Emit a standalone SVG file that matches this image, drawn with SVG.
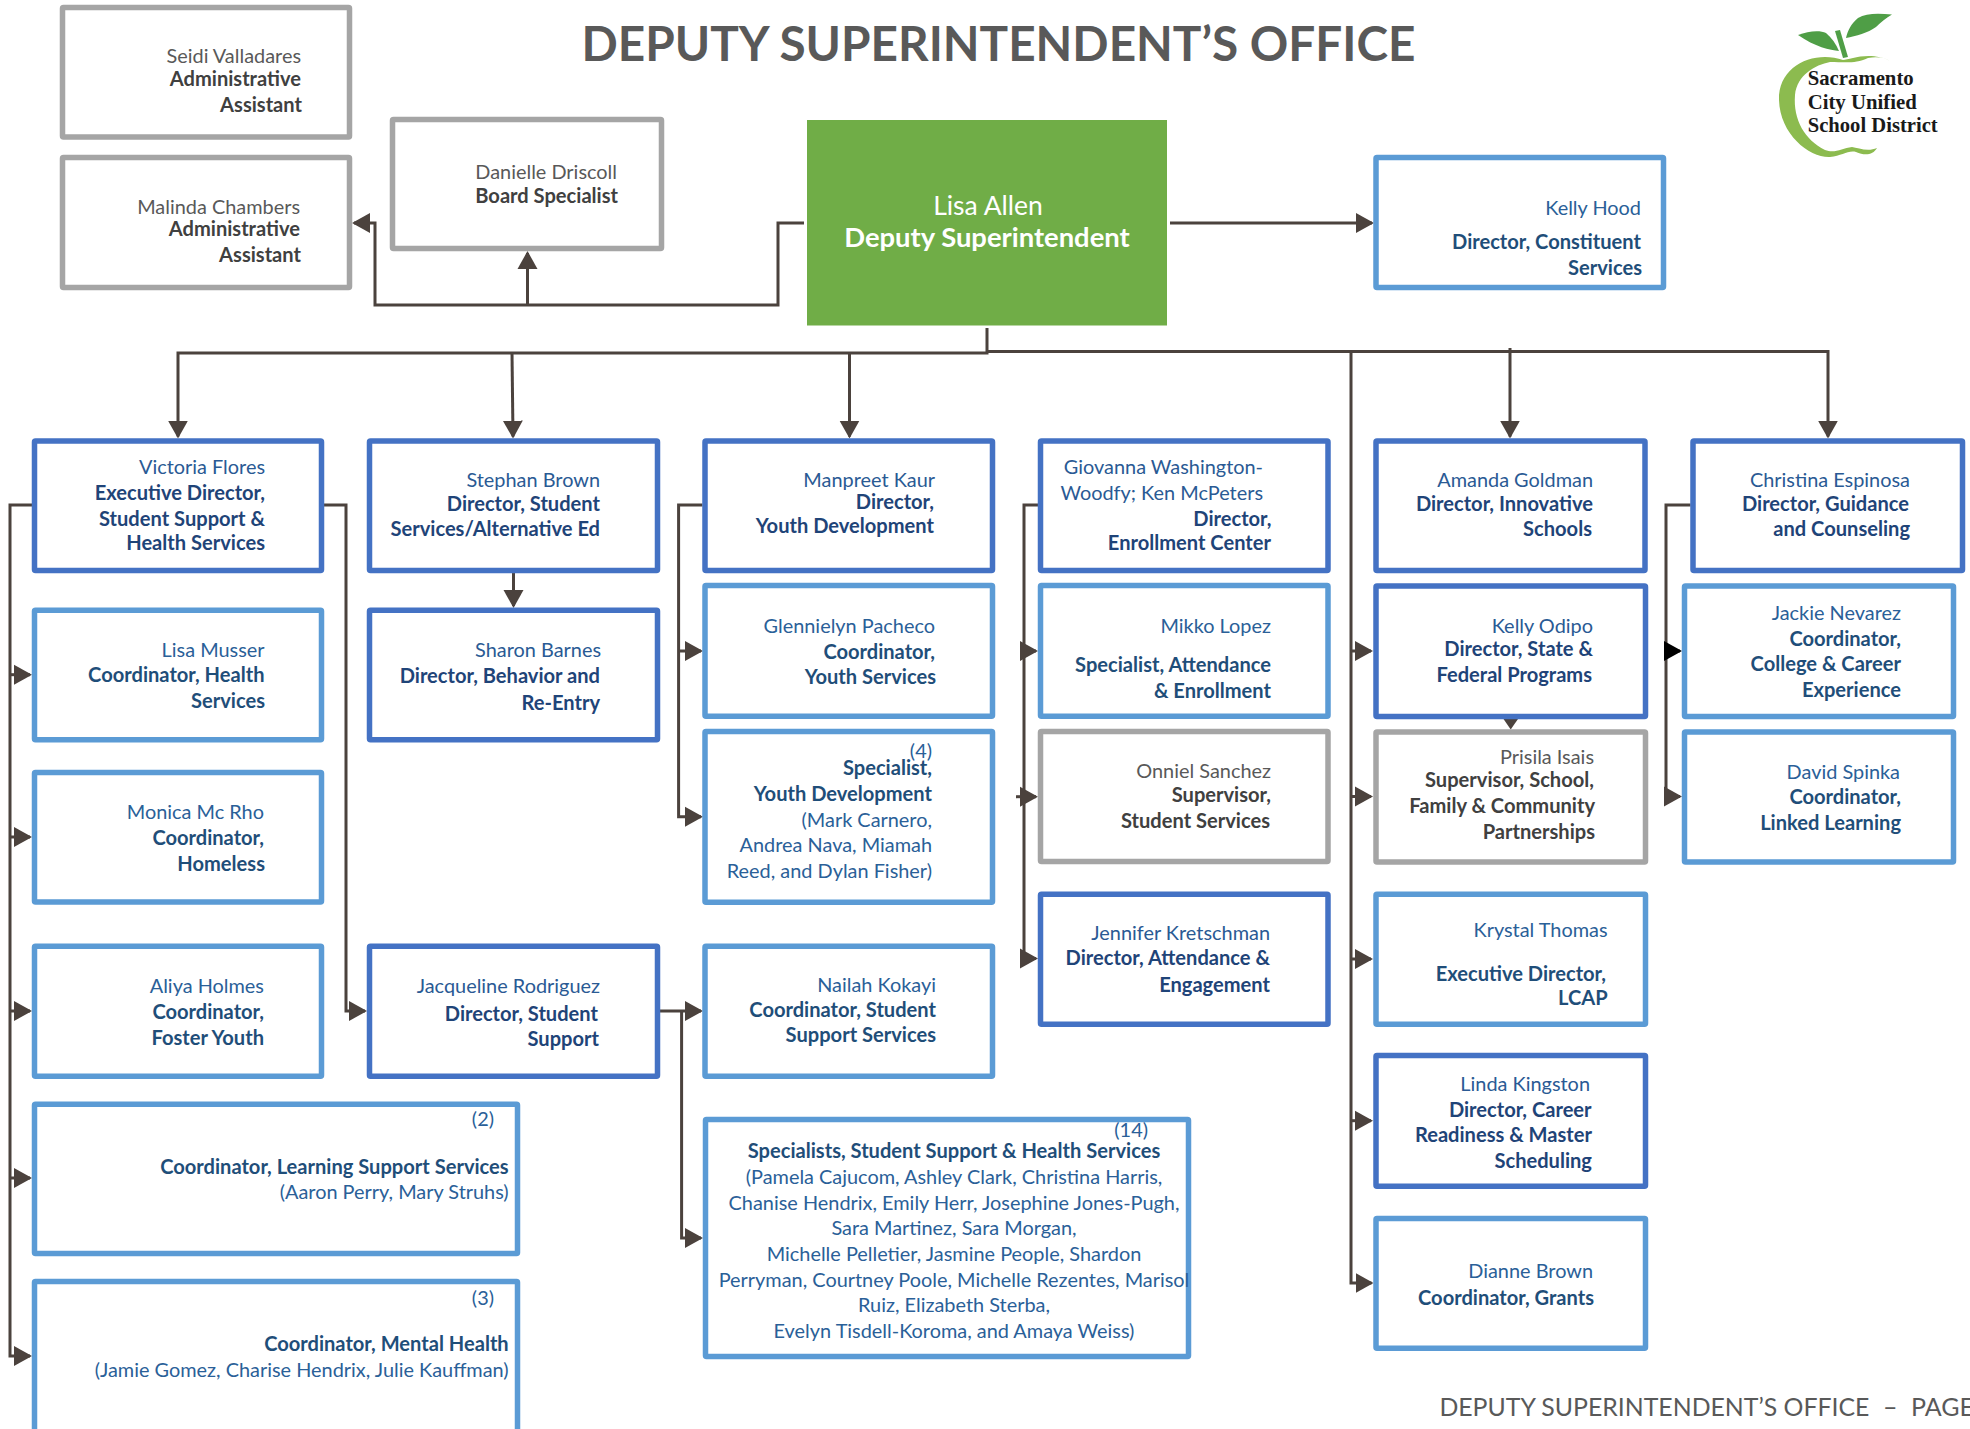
<svg xmlns="http://www.w3.org/2000/svg" width="1970" height="1429" viewBox="0 0 1970 1429">
<style>
text{font-family:Lato,"Liberation Sans",sans-serif;font-size:19.9px;text-anchor:end}
.bx{fill:#fff;stroke-width:5.5}
.d .bx{stroke:#4472c4}.l .bx{stroke:#5b9bd5}.g .bx{stroke:#a5a5a5}
.d text{fill:#2a5a94}.d .t{fill:#1f4478;font-weight:700;font-size:20.1px}
.l text{fill:#2a6098}.l .t{fill:#1f4e79;font-weight:700;font-size:20.1px}
.g text{fill:#595959}.g .t{fill:#404040;font-weight:700;font-size:20.1px}
.c{text-anchor:middle}
#connectors path{fill:none;stroke:#4b423d;stroke-width:3;marker-end:url(#a)}
#connectors path.k{marker-end:url(#k)}
#connectors path.p{marker-end:none}
#title{font-size:48px;font-weight:700;fill:#595959;text-anchor:start}
#footer{font-size:25px;fill:#595959;text-anchor:start}
#logo text{font-family:"Liberation Serif",serif;font-weight:700;font-size:21px;fill:#1a1a1a;text-anchor:start}
</style>
<defs>
<marker id="a" markerUnits="userSpaceOnUse" markerWidth="19" markerHeight="22" refX="16" refY="10.5" orient="auto"><path d="M0,0.5L18,10.5L0,20.5z" fill="#4b423d"/></marker>
<marker id="k" markerUnits="userSpaceOnUse" markerWidth="19" markerHeight="22" refX="16" refY="10.5" orient="auto"><path d="M0,0.5L18,10.5L0,20.5z" fill="#000"/></marker>
</defs>
<rect width="1970" height="1429" fill="#fff"/>
<text id="title" x="581.5" y="60.5" textLength="834" lengthAdjust="spacingAndGlyphs">DEPUTY SUPERINTENDENT’S OFFICE</text>
<g id="connectors">
<path d="M804,223H778V305H375V223H354"/>
<path d="M527.5,305V253"/>
<path d="M1170,223H1372"/>
<path class="p" d="M987,328V353H512"/>
<path d="M849.5,353V436.6"/>
<path d="M512,353H178V436.6"/>
<path d="M512,353L513,436.6"/>
<path d="M987,351.5H1828V436.6"/>
<path d="M1510,348V436.6"/>
<path d="M1351,351.5V1283H1371.5"/>
<path d="M1351,651H1371"/>
<path d="M1351,796.5H1371"/>
<path d="M1351,959H1371"/>
<path d="M1351,1120.7H1371"/>
<path d="M32,505H10V1356H30"/>
<path d="M10,674.7H30"/>
<path d="M10,837H30"/>
<path d="M10,1011H30"/>
<path d="M10,1178H30"/>
<path d="M324,505H346V1011H365"/>
<path d="M513.5,573V606"/>
<path d="M660,1011H701"/>
<path d="M681.6,1011V1238H701"/>
<path d="M702.5,505H678.6V816.7H701"/>
<path d="M678.6,651H701"/>
<path d="M1038,505H1024V958.6H1036"/>
<path d="M1024,651H1036"/>
<path d="M1016,796.7H1036"/>
<path d="M1690.6,505H1666V796.5H1680"/>
<path class="k" d="M1666,651H1680"/>
<polygon points="1503.5,719 1518,719 1510.7,729.5" fill="#4b423d"/>
</g>
<g id="n-seidi" class="g"><rect class="bx" x="62.5" y="7.5" width="287" height="129.5" rx="1"/><text x="301" y="63">Seidi Valladares</text><text class="t" x="301" y="86">Administrative</text><text class="t" x="302" y="112">Assistant</text></g>
<g id="n-malinda" class="g"><rect class="bx" x="62.5" y="157.5" width="287" height="130" rx="1"/><text x="300" y="213.5">Malinda Chambers</text><text class="t" x="300" y="235.5">Administrative</text><text class="t" x="301" y="261.5">Assistant</text></g>
<g id="n-danielle" class="g"><rect class="bx" x="392.5" y="119.5" width="269" height="129" rx="1"/><text x="617" y="179">Danielle Driscoll</text><text class="t" x="618" y="202.6">Board Specialist</text></g>
<g id="n-lisa-allen"><rect x="807" y="120" width="360" height="205.5" fill="#70ad47"/><text class="c" x="988" y="215" style="fill:#fff;font-size:26.5px">Lisa Allen</text><text class="c" x="987" y="246.7" style="fill:#fff;font-size:27.4px;font-weight:700">Deputy Superintendent</text></g>
<g id="n-kelly-hood" class="l"><rect class="bx" x="1376" y="157.5" width="287.5" height="130" rx="1"/><text x="1641" y="214.5">Kelly Hood</text><text class="t" x="1641" y="248.5">Director, Constituent</text><text class="t" x="1642" y="274.5">Services</text></g>
<g id="logo">
<path d="M1892,62C1870,50 1850,60 1843,60C1815,50 1778,65 1779,100C1780,135 1810,158 1830,157C1842,156 1848,150 1856,152C1865,156 1873,155 1877,148C1868,152 1858,148 1852,147C1842,148 1835,154 1825,150C1805,140 1793,120 1795,95C1797,75 1815,65 1830,62C1845,62 1855,64 1868,58C1878,56 1886,58 1892,62Z" fill="#8cbb4f"/>
<path d="M1798,35C1808,31 1820,30 1826,33C1832,38 1836,44 1839,51C1830,50 1815,47 1798,35Z" fill="#4f9e46"/>
<path d="M1892,14.5C1878,13 1866,13 1858,18C1851,24 1848,30 1846,38C1856,36 1868,33 1876,27C1881,22 1886,18 1892,14.5Z" fill="#4f9e46"/>
<path d="M1835,31L1840,30L1848,57L1843,58Z" fill="#4f9e46"/>
<text x="1807.7" y="85" textLength="106" lengthAdjust="spacingAndGlyphs">Sacramento</text><text x="1807.7" y="108.7" textLength="109" lengthAdjust="spacingAndGlyphs">City Unified</text><text x="1807.7" y="132.4" textLength="130" lengthAdjust="spacingAndGlyphs">School District</text>
</g>
<g id="n-victoria" class="d"><rect class="bx" x="34.5" y="441" width="287" height="129.5" rx="1"/><text x="265" y="473.5">Victoria Flores</text><text class="t" x="265" y="499.6">Executive Director,</text><text class="t" x="265" y="525.5">Student Support &amp;</text><text class="t" x="265" y="550">Health Services</text></g>
<g id="n-stephan" class="d"><rect class="bx" x="369.5" y="441" width="288" height="129.5" rx="1"/><text x="600" y="487">Stephan Brown</text><text class="t" x="600" y="510.7">Director, Student</text><text class="t" x="600" y="536.3">Services/Alternative Ed</text></g>
<g id="n-manpreet" class="d"><rect class="bx" x="705" y="441" width="287.5" height="129.5" rx="1"/><text x="935" y="486.7">Manpreet Kaur</text><text class="t" x="934" y="509">Director,</text><text class="t" x="934" y="533">Youth Development</text></g>
<g id="n-giovanna" class="d"><rect class="bx" x="1040.5" y="441" width="287.5" height="129.5" rx="1"/><text x="1263" y="473.5">Giovanna Washington-</text><text x="1263" y="499.5">Woodfy; Ken McPeters</text><text class="t" x="1271.5" y="525.5">Director,</text><text class="t" x="1271" y="550">Enrollment Center</text></g>
<g id="n-amanda" class="d"><rect class="bx" x="1376" y="441" width="269" height="129.5" rx="1"/><text x="1593" y="487">Amanda Goldman</text><text class="t" x="1593" y="510.5">Director, Innovative</text><text class="t" x="1592" y="536">Schools</text></g>
<g id="n-christina" class="d"><rect class="bx" x="1693" y="441" width="269.5" height="129.5" rx="1"/><text x="1910" y="487">Christina Espinosa</text><text class="t" x="1909" y="510.5">Director, Guidance</text><text class="t" x="1910" y="536">and Counseling</text></g>
<g id="n-lisa-musser" class="l"><rect class="bx" x="34.5" y="610.3" width="287" height="129.5" rx="1"/><text x="264.5" y="657">Lisa Musser</text><text class="t" x="264.5" y="682">Coordinator, Health</text><text class="t" x="265" y="708">Services</text></g>
<g id="n-sharon" class="d"><rect class="bx" x="369.5" y="610.3" width="288" height="129.5" rx="1"/><text x="601" y="657">Sharon Barnes</text><text class="t" x="600" y="683">Director, Behavior and</text><text class="t" x="600" y="709.6">Re-Entry</text></g>
<g id="n-glennielyn" class="l"><rect class="bx" x="705" y="585.5" width="287.5" height="130.7" rx="1"/><text x="935" y="633">Glennielyn Pacheco</text><text class="t" x="935" y="658.5">Coordinator,</text><text class="t" x="936" y="684">Youth Services</text></g>
<g id="n-mikko" class="l"><rect class="bx" x="1040.5" y="585.5" width="287.5" height="130.7" rx="1"/><text x="1271" y="633">Mikko Lopez</text><text class="t" x="1271" y="672">Specialist, Attendance</text><text class="t" x="1271" y="697.5">&amp; Enrollment</text></g>
<g id="n-kelly-odipo" class="d"><rect class="bx" x="1376" y="586" width="269.5" height="130.5" rx="1"/><text x="1593" y="633">Kelly Odipo</text><text class="t" x="1593" y="656">Director, State &amp;</text><text class="t" x="1592" y="682">Federal Programs</text></g>
<g id="n-jackie" class="l"><rect class="bx" x="1684.5" y="586" width="269" height="130.5" rx="1"/><text x="1901" y="620">Jackie Nevarez</text><text class="t" x="1901" y="646">Coordinator,</text><text class="t" x="1901" y="671">College &amp; Career</text><text class="t" x="1901" y="697">Experience</text></g>
<g id="n-spec4" class="l"><rect class="bx" x="705" y="731.5" width="287.5" height="170.7" rx="1"/><text x="932" y="757.5">(4)</text><text class="t" x="932" y="774.5">Specialist,</text><text class="t" x="932" y="801">Youth Development</text><text x="932" y="826.5">(Mark Carnero,</text><text x="932" y="851.5">Andrea Nava, Miamah</text><text x="932" y="877.5">Reed, and Dylan Fisher)</text></g>
<g id="n-onniel" class="g"><rect class="bx" x="1040.5" y="731.5" width="287.5" height="130" rx="1"/><text x="1271" y="778">Onniel Sanchez</text><text class="t" x="1271" y="802">Supervisor,</text><text class="t" x="1270" y="827.5">Student Services</text></g>
<g id="n-prisila" class="g"><rect class="bx" x="1376" y="732" width="269.5" height="130" rx="1"/><text x="1594" y="764">Prisila Isais</text><text class="t" x="1594" y="787.4">Supervisor, School,</text><text class="t" x="1595" y="812.7">Family &amp; Community</text><text class="t" x="1595" y="838.5">Partnerships</text></g>
<g id="n-david" class="l"><rect class="bx" x="1684.5" y="732" width="269" height="130" rx="1"/><text x="1900" y="778.6">David Spinka</text><text class="t" x="1901" y="804">Coordinator,</text><text class="t" x="1901" y="829.6">Linked Learning</text></g>
<g id="n-monica" class="l"><rect class="bx" x="34.5" y="772.5" width="287" height="129.5" rx="1"/><text x="264" y="819">Monica Mc Rho</text><text class="t" x="264" y="844.7">Coordinator,</text><text class="t" x="265" y="871">Homeless</text></g>
<g id="n-jennifer" class="d"><rect class="bx" x="1040.5" y="894.2" width="287.5" height="130" rx="1"/><text x="1270" y="940">Jennifer Kretschman</text><text class="t" x="1270" y="965">Director, Attendance &amp;</text><text class="t" x="1270" y="991.5">Engagement</text></g>
<g id="n-krystal" class="l"><rect class="bx" x="1376" y="894.2" width="269.5" height="130" rx="1"/><text x="1607.6" y="936.5">Krystal Thomas</text><text class="t" x="1606" y="980.5">Executive Director,</text><text class="t" x="1607.6" y="1005">LCAP</text></g>
<g id="n-aliya" class="l"><rect class="bx" x="34.5" y="946.2" width="287" height="130" rx="1"/><text x="264" y="992.5">Aliya Holmes</text><text class="t" x="264" y="1018.5">Coordinator,</text><text class="t" x="264" y="1044.5">Foster Youth</text></g>
<g id="n-jacqueline" class="d"><rect class="bx" x="369.5" y="946.2" width="288" height="130" rx="1"/><text x="600" y="992.5">Jacqueline Rodriguez</text><text class="t" x="598" y="1020.5">Director, Student</text><text class="t" x="599" y="1045.5">Support</text></g>
<g id="n-nailah" class="l"><rect class="bx" x="705" y="946.2" width="287.5" height="130" rx="1"/><text x="936" y="992">Nailah Kokayi</text><text class="t" x="936" y="1017">Coordinator, Student</text><text class="t" x="936" y="1042">Support Services</text></g>
<g id="n-linda" class="d"><rect class="bx" x="1376" y="1055.5" width="269.5" height="130.7" rx="1"/><text x="1590" y="1091">Linda Kingston</text><text class="t" x="1591.6" y="1117">Director, Career</text><text class="t" x="1592" y="1142">Readiness &amp; Master</text><text class="t" x="1592" y="1168">Scheduling</text></g>
<g id="n-coord-lss" class="l"><rect class="bx" x="34.5" y="1104.2" width="483" height="149.3" rx="1"/><text x="494" y="1126">(2)</text><text class="t" x="508.7" y="1173.5">Coordinator, Learning Support Services</text><text x="508.7" y="1199">(Aaron Perry, Mary Struhs)</text></g>
<g id="n-spec14" class="l"><rect class="bx" x="705.5" y="1119.5" width="483" height="237" rx="1"/><text x="1148" y="1136.5">(14)</text><text class="t c" x="954" y="1158">Specialists, Student Support &amp; Health Services</text><text class="c" x="954" y="1184">(Pamela Cajucom, Ashley Clark,  Christina Harris,</text><text class="c" x="954" y="1209.5">Chanise Hendrix, Emily Herr, Josephine Jones-Pugh,</text><text class="c" x="954" y="1235">Sara Martinez, Sara Morgan,</text><text class="c" x="954" y="1261">Michelle Pelletier, Jasmine People, Shardon</text><text class="c" x="954" y="1287">Perryman, Courtney Poole, Michelle Rezentes, Marisol</text><text class="c" x="954" y="1312">Ruiz, Elizabeth Sterba,</text><text class="c" x="954" y="1338">Evelyn Tisdell-Koroma, and Amaya Weiss)</text></g>
<g id="n-dianne" class="l"><rect class="bx" x="1376" y="1218.5" width="269.5" height="129.7" rx="1"/><text x="1593" y="1277.5">Dianne Brown</text><text class="t" x="1594" y="1305">Coordinator, Grants</text></g>
<g id="n-mental" class="l"><rect class="bx" x="34.5" y="1281.5" width="483" height="170" rx="1"/><text x="494" y="1304.5">(3)</text><text class="t" x="508.7" y="1351">Coordinator, Mental Health</text><text x="508.7" y="1377">(Jamie Gomez, Charise Hendrix, Julie Kauffman)</text></g>
<text id="footer" y="1416"><tspan x="1439.4" textLength="430" lengthAdjust="spacingAndGlyphs">DEPUTY SUPERINTENDENT’S OFFICE</tspan><tspan x="1883">–</tspan><tspan x="1911">PAGE</tspan></text>
</svg>
